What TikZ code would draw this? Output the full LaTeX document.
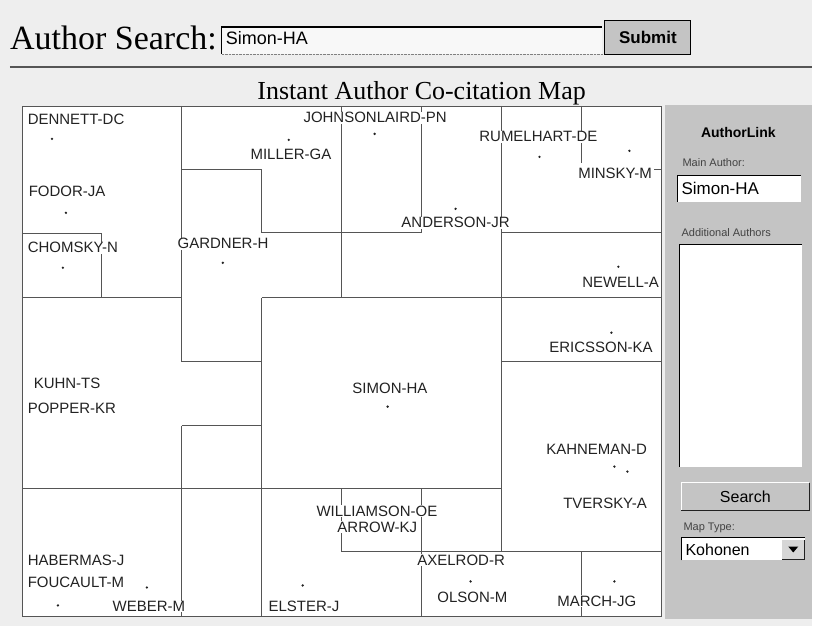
\documentclass[tikz,border=0pt]{standalone}
\usepackage{fontspec}
\setmainfont{Liberation Serif}
\setsansfont{Liberation Sans}
\definecolor{page}{HTML}{EEEEEE}
\definecolor{panel}{HTML}{C4C4C4}
\definecolor{ink}{HTML}{222222}
\definecolor{rule}{HTML}{555555}
\begin{document}
\begin{tikzpicture}[x=1pt, y=-1pt,
	cell/.style={draw=rule, line width=0.8pt},
	author/.style={font=\sffamily\fontsize{15}{15}\selectfont, text=ink, fill=white, inner sep=0.6pt, anchor=base west},
	small/.style={font=\sffamily\fontsize{11}{11}\selectfont, text=ink!85, inner sep=0pt, anchor=base west},
	field/.style={font=\sffamily\fontsize{17}{17}\selectfont, text=black, inner sep=0pt, anchor=base west}]
	\fill[page] (0,0) rectangle (813,627);
	\node[font=\fontsize{34}{34}\selectfont, anchor=base west, inner sep=0pt] (search) at (10,50) {Author Search:};
	\fill[white!60!page] (222,27) rectangle (603,54);
	\draw[line width=1.2pt] (222,54) -- (222,27) -- (603,27);
	\draw[gray, densely dotted] (222,54) -- (603,54);
	\node[field, font=\sffamily\fontsize{18}{18}\selectfont] (query) at (226,45) {Simon-HA};
	\node[draw, line width=1pt, fill=panel, minimum width=86pt, minimum height=34pt, inner sep=0pt, font=\sffamily\bfseries\fontsize{17}{17}\selectfont] (submit) at (648.5,37.5) {Submit};
	\draw[rule, line width=1.5pt] (10,67) -- (813,67);
	\node[font=\fontsize{26}{26}\selectfont, anchor=base, inner sep=0pt] (title) at (422,100) {Instant Author Co-citation Map};

	\draw[cell, fill=white] (22,106) rectangle (662,617);
	\draw[cell] (182,106) -- (182,362) (182,426) -- (182,617);
	\draw[cell] (182,170) -- (262,170) -- (262,233) -- (422,233) -- (422,106);
	\draw[cell] (342,106) -- (342,298) (502,106) -- (502,552) (582,106) -- (582,163);
	\draw[cell] (655,170) -- (662,170) (502,233) -- (662,233);
	\draw[cell] (22,234) -- (101,234) -- (101,298);
	\draw[cell] (22,298) -- (182,298) (262,298) -- (662,298);
	\draw[cell] (182,362) -- (262,362) (182,426) -- (262,426) (262,298) -- (262,617);
	\draw[cell] (502,362) -- (662,362) (22,489) -- (502,489);
	\draw[cell] (342,489) -- (342,552) -- (662,552);
	\draw[cell] (422,489) -- (422,617) (582,552) -- (582,617);

	\node[author] (dennett) at (27,125) {DENNETT-DC};
	\node[author] (miller) at (250,160) {MILLER-GA};
	\node[author] (fodor) at (28,197) {FODOR-JA};
	\node[author] (chomsky) at (27,253) {CHOMSKY-N};
	\node[author] (gardner) at (177,249) {GARDNER-H};
	\node[author] (johnsonlaird) at (303,123) {JOHNSONLAIRD-PN};
	\node[author] (rumelhart) at (479,142) {RUMELHART-DE};
	\node[author] (minsky) at (578,179) {MINSKY-M};
	\node[author] (anderson) at (401,228) {ANDERSON-JR};
	\node[author] (newell) at (582,288) {NEWELL-A};
	\node[author] (kuhn) at (33,389) {KUHN-TS};
	\node[author] (popper) at (27,414) {POPPER-KR};
	\node[author] (ericsson) at (549,353) {ERICSSON-KA};
	\node[author] (simon) at (352,394) {SIMON-HA};
	\node[author] (kahneman) at (546,455) {KAHNEMAN-D};
	\node[author] (tversky) at (563,509) {TVERSKY-A};
	\node[author] (williamson) at (316,517) {WILLIAMSON-OE};
	\node[author] (arrow) at (337,533) {ARROW-KJ};
	\node[author] (axelrod) at (417,566) {AXELROD-R};
	\node[author] (habermas) at (27,566) {HABERMAS-J};
	\node[author] (foucault) at (27,588) {FOUCAULT-M};
	\node[author] (weber) at (112,612) {WEBER-M};
	\node[author] (elster) at (268,612) {ELSTER-J};
	\node[author] (olson) at (437,603) {OLSON-M};
	\node[author] (march) at (557,607) {MARCH-JG};
	\foreach \x/\y in {52/139, 289/140, 66/213, 63/268, 223/263, 375/134, 540/157, 630/151, 456/209, 619/267, 612/333, 388/407, 615/467, 628/472, 58/606, 147/588, 303/586, 471/582, 615/582}
		\fill[ink] (\x,\y) circle (1.3pt);

	\fill[panel] (666,105) rectangle (813,620);
	\node[font=\sffamily\bfseries\fontsize{14}{14}\selectfont, anchor=base, inner sep=0pt] (authorlink) at (739,138) {AuthorLink};
	\node[small] (mainlabel) at (683,167) {Main Author:};
	\fill[white] (678,176) rectangle (802,202);
	\draw[line width=1.2pt] (678,202) -- (678,176) -- (802,176);
	\node[field] (mainfield) at (682,195) {Simon-HA};
	\node[small] (addlabel) at (682,237) {Additional Authors};
	\fill[white] (680,245) rectangle (803,467);
	\draw[line width=1.2pt] (680,467) -- (680,245) -- (803,245);
	\draw[white] (682,511) -- (682,483) -- (810,483);
	\draw[ink, line width=1.2pt] (682,511) -- (810,511) -- (810,483);
	\node[font=\sffamily\fontsize{16}{16}\selectfont, inner sep=0pt] (searchbtn) at (746,497) {Search};
	\node[small] (maplabel) at (684,531) {Map Type:};
	\fill[white] (682,538) rectangle (806,561);
	\draw[line width=1.2pt] (682,561) -- (682,538) -- (806,538);
	\fill[panel!70!white] (783,540) rectangle (805,560);
	\draw[ink, line width=1pt] (783,560) -- (805,560) -- (805,540);
	\fill[black] (789,547) -- (799,547) -- (794,553) -- cycle;
	\node[field, font=\sffamily\fontsize{16}{16}\selectfont] (kohonen) at (686,556) {Kohonen};
\end{tikzpicture}
\end{document}
